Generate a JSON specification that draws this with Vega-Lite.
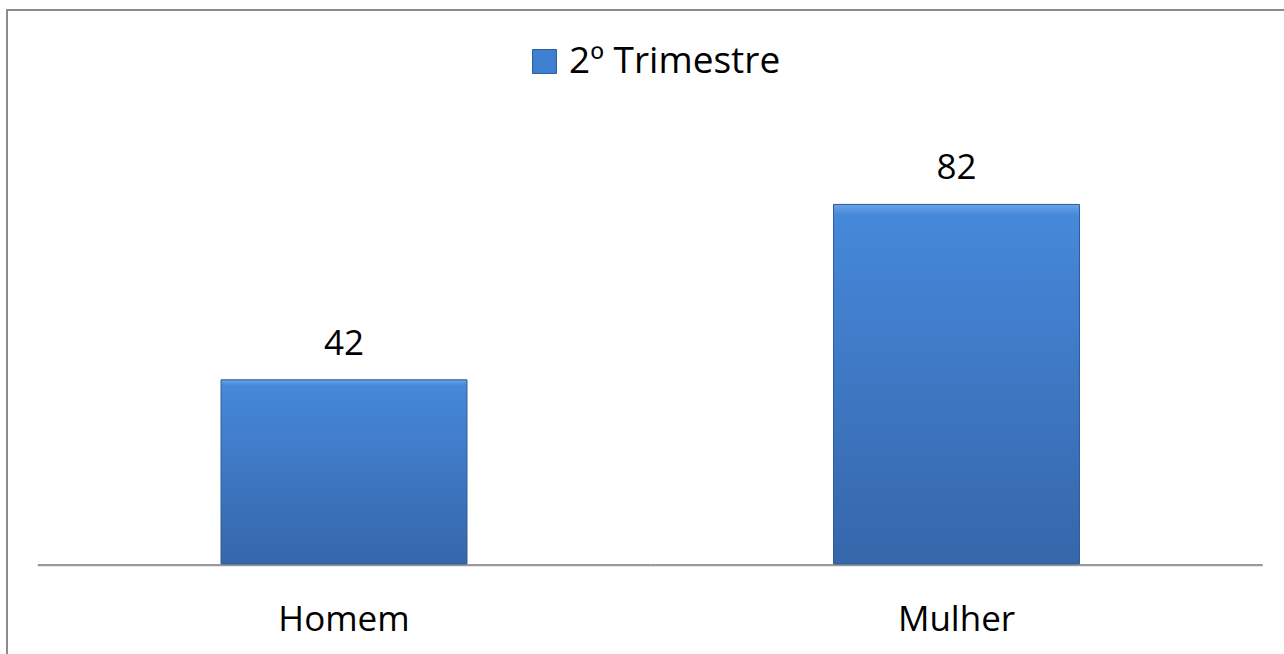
{
  "$schema": "https://vega.github.io/schema/vega-lite/v6.json",
  "width": 1287,
  "height": 654,
  "autosize": {"type": "none"},
  "padding": {"left": 7, "top": 10, "right": -10, "bottom": -10},
  "background": "white",
  "config": {
    "view": {"stroke": "#8c8c8c", "strokeWidth": 2},
    "font": "Open Sans"
  },
  "data": {
    "values": [
      {"sexo": "Homem", "valor": 42, "serie": "2º Trimestre"},
      {"sexo": "Mulher", "valor": 82, "serie": "2º Trimestre"}
    ]
  },
  "encoding": {
    "x": {
      "field": "sexo",
      "type": "nominal",
      "sort": null,
      "scale": {"paddingInner": 0, "paddingOuter": 0.05061, "align": 0.496},
      "axis": null
    }
  },
  "layer": [
    {
      "mark": {"type": "bar", "width": {"band": 1}, "color": "#9a9a9a"},
      "encoding": {
        "y": {"datum": 0, "type": "quantitative", "scale": {"domain": [-22.8, 126.34], "nice": false, "zero": false}, "axis": null},
        "y2": {"datum": -0.5}
      }
    },
    {
      "mark": {"type": "bar", "width": {"band": 0.4016}},
      "encoding": {
        "y": {"field": "valor", "type": "quantitative", "stack": null, "scale": {"domain": [-22.8, 126.34], "nice": false, "zero": false}, "axis": null},
        "y2": {"datum": 0},
        "color": {
          "field": "serie",
          "type": "nominal",
          "scale": {"range": ["#3f7fcf"]},
          "legend": {
            "title": null,
            "orient": "none",
            "legendX": 519,
            "legendY": 33,
            "symbolType": "square",
            "symbolSize": 576,
            "symbolStrokeColor": "#2f5d9a",
            "symbolStrokeWidth": 1,
            "labelFontSize": 37,
            "labelFont": "Open Sans",
            "labelColor": "black",
            "labelOffset": 6,
            "labelLimit": 0,
            "padding": 0
          }
        }
      }
    },
    {
      "mark": {
        "type": "bar",
        "width": {"band": 0.4016},
        "fill": {
          "gradient": "linear",
          "x1": 0, "y1": 0, "x2": 0, "y2": 1,
          "stops": [
            {"offset": 0, "color": "#6aa3e8"},
            {"offset": 0.03, "color": "#4688da"},
            {"offset": 1, "color": "#3566aa"}
          ]
        },
        "stroke": "#2f5d9a",
        "strokeWidth": 1
      },
      "encoding": {
        "y": {"field": "valor", "type": "quantitative", "stack": null, "scale": {"domain": [-22.8, 126.34], "nice": false, "zero": false}, "axis": null},
        "y2": {"datum": 0}
      }
    },
    {
      "mark": {"type": "text", "dy": -25, "baseline": "alphabetic", "fontSize": 35, "font": "Open Sans", "color": "black"},
      "encoding": {
        "y": {"field": "valor", "type": "quantitative", "scale": {"domain": [-22.8, 126.34], "nice": false, "zero": false}, "axis": null},
        "text": {"field": "valor", "type": "quantitative"}
      }
    },
    {
      "mark": {"type": "text", "baseline": "alphabetic", "fontSize": 35, "font": "Open Sans", "color": "black"},
      "encoding": {
        "y": {"datum": -15.28, "type": "quantitative", "scale": {"domain": [-22.8, 126.34], "nice": false, "zero": false}, "axis": null},
        "text": {"field": "sexo", "type": "nominal"}
      }
    }
  ]
}
